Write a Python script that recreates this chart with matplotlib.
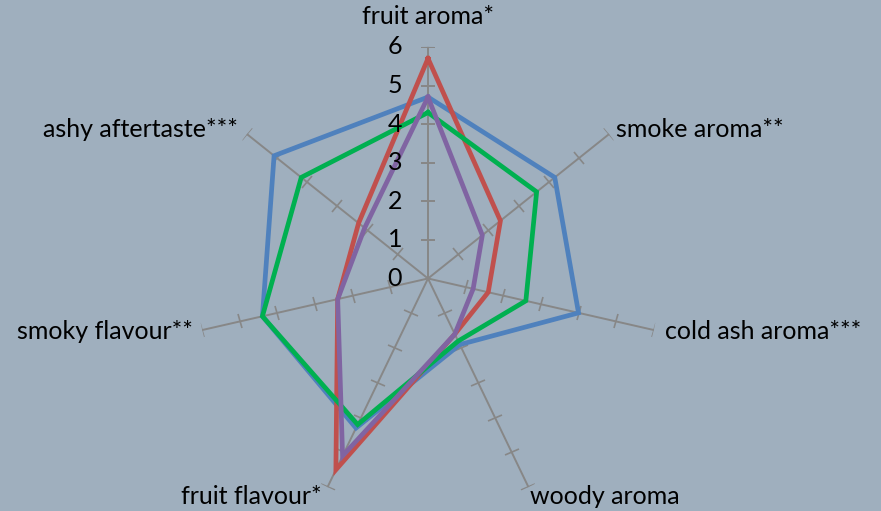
import numpy as np
import matplotlib
matplotlib.use("Agg")
import matplotlib.pyplot as plt
from matplotlib.markers import MarkerStyle
from matplotlib.transforms import Affine2D

categories = ['fruit aroma*', 'smoke aroma**', 'cold ash aroma***', 'woody aroma',
              'fruit flavour*', 'smoky flavour**', 'ashy aftertaste***']
series_blue = [4.7, 4.2, 4.0, 1.9, 4.3, 4.4, 5.1]
series_red = [5.7, 2.4, 1.6, 1.6, 5.5, 2.4, 2.3]
series_green = [4.3, 3.6, 2.6, 1.8, 4.2, 4.4, 4.2]
series_purple = [4.7, 1.8, 1.2, 1.6, 5.1, 2.4, 2.1]
scale_ticks = [0, 1, 2, 3, 4, 5, 6]

series = [(series_blue, '#4F81BD'), (series_red, '#C0504D'),
          (series_green, '#00B050'), (series_purple, '#8064A2')]

bg = '#9FAFBE'
spoke_color = '#878787'
plt.rcParams['font.family'] = ['Lato', 'DejaVu Sans']

fig = plt.figure(figsize=(8.81, 5.11), dpi=100, facecolor=bg)
cx, cy, R = 428, 511 - 278.5, 231.6
ax = fig.add_axes([(cx - R) / 881, (cy - R) / 511, 2 * R / 881, 2 * R / 511],
                  projection='polar')
ax.set_facecolor('none')
ax.set_theta_zero_location('N')
ax.set_theta_direction(-1)
ax.set_ylim(0, 6)
ax.grid(False)
ax.spines['polar'].set_visible(False)
ax.set_xticks([])
ax.set_yticks([])

n = len(categories)
angles = np.arange(n) * 2 * np.pi / n

# spokes with perpendicular tick marks
for i, th in enumerate(angles):
    ax.plot([th, th], [0, 6], color=spoke_color, lw=1.4, zorder=1)
    mk = MarkerStyle('_', transform=Affine2D().rotate_deg(-np.degrees(th)))
    ax.plot([th] * 6, scale_ticks[1:], linestyle='none', marker=mk,
            markersize=10.5, markeredgewidth=1.2, color=spoke_color, zorder=1)

# scale labels on the vertical axis
for v in scale_ticks:
    ax.annotate(str(v), xy=(0, v), xytext=(-33, 0), textcoords='offset pixels',
                ha='center', va='center', fontsize=18, color='black', zorder=5)

# category labels
label_cfg = [
    (0, 30, 'center', 'center'),
    (7, 5, 'left', 'center'),
    (11, -1, 'left', 'center'),
    (2, -9, 'left', 'center'),
    (-6, -9, 'right', 'center'),
    (-9, -1, 'right', 'center'),
    (-9, 5, 'right', 'center'),
]
for th, name, (dx, dy, ha, va) in zip(angles, categories, label_cfg):
    ax.annotate(name, xy=(th, 6), xytext=(dx, dy), textcoords='offset pixels',
                ha=ha, va=va, fontsize=18, color='black', annotation_clip=False)

# data series
closed = np.concatenate([angles, angles[:1]])
for vals, col in series:
    v = list(vals) + [vals[0]]
    ax.plot(closed, v, color=col, lw=3.4, solid_joinstyle='miter', zorder=3)

fig.savefig('out.png', dpi=100, facecolor=bg)
